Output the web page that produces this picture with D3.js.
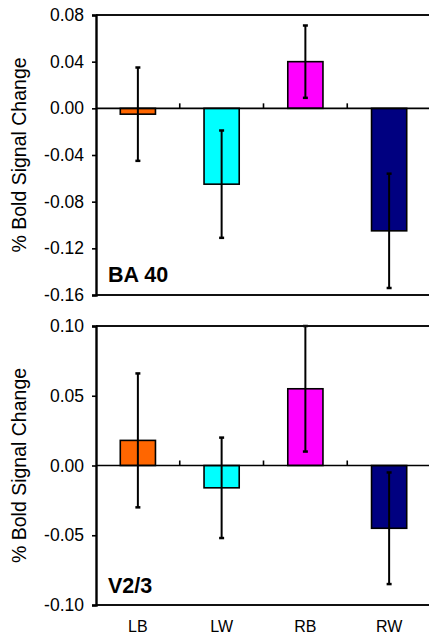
<!DOCTYPE html>
<html lang="en">
<head>
<meta charset="UTF-8">
<title>% Bold Signal Change</title>
<script src="https://d3js.org/d3.v7.min.js"></script>
<style>
  body { margin: 0; background: #fff; }
  svg { display: block; }
  text { font-family: "Liberation Sans", Arial, sans-serif; }
</style>
</head>
<body>
<svg width="429" height="635"></svg>
<script>
// categories and colours
const categories = ["LB", "LW", "RB", "RW"];
const barColors = ["#FF6600", "#00FFFF", "#FF00FF", "#000080"];

// BA 40 panel
const ba40Means = [-0.005, -0.065, 0.040, -0.105];
const ba40Errors = [0.040, 0.046, 0.031, 0.049];
const ba40Ticks = [0.08, 0.04, 0.00, -0.04, -0.08, -0.12, -0.16];

// V2/3 panel
const v23Means = [0.018, -0.016, 0.055, -0.045];
const v23Errors = [0.048, 0.036, 0.045, 0.040];
const v23Ticks = [0.10, 0.05, 0.00, -0.05, -0.10];

const svg = d3.select("svg");

const x = d3.scaleBand()
    .domain(categories)
    .range([96, 431])
    .paddingInner(0.58)
    .paddingOuter(0.29);

function drawPanel(opts) {
    const y = d3.scaleLinear().domain(opts.domain).range([opts.bottom, opts.top]);
    const g = svg.append("g");
    const data = categories.map((c, i) => ({ cat: c, v: opts.means[i], e: opts.errors[i], col: barColors[i] }));

    // bars
    g.selectAll("rect.bar")
        .data(data)
        .join("rect")
        .attr("class", "bar")
        .attr("x", d => x(d.cat))
        .attr("width", x.bandwidth())
        .attr("y", d => y(Math.max(0, d.v)))
        .attr("height", d => Math.abs(y(d.v) - y(0)))
        .attr("fill", d => d.col)
        .attr("stroke", "#000")
        .attr("stroke-width", 1.6);

    // zero line
    g.append("line")
        .attr("x1", 96).attr("x2", 431)
        .attr("y1", y(0)).attr("y2", y(0))
        .attr("stroke", "#000").attr("stroke-width", 1.6);

    // category tick marks between bands
    const bounds = categories.slice(1).map(c => x(c) - x.step() * x.paddingInner() / 2);
    g.selectAll("line.ctick")
        .data(bounds)
        .join("line")
        .attr("x1", d => d).attr("x2", d => d)
        .attr("y1", y(0)).attr("y2", y(0) - 5)
        .attr("stroke", "#000").attr("stroke-width", 1.6);

    // error bars
    const eb = g.selectAll("g.err").data(data).join("g").attr("class", "err");
    const cx = d => x(d.cat) + x.bandwidth() / 2;
    eb.append("line")
        .attr("x1", cx).attr("x2", cx)
        .attr("y1", d => y(d.v + d.e)).attr("y2", d => y(d.v - d.e))
        .attr("stroke", "#000").attr("stroke-width", 2);
    eb.append("line")
        .attr("x1", d => cx(d) - 2.5).attr("x2", d => cx(d) + 2.5)
        .attr("y1", d => y(d.v + d.e)).attr("y2", d => y(d.v + d.e))
        .attr("stroke", "#000").attr("stroke-width", 2.5);
    eb.append("line")
        .attr("x1", d => cx(d) - 2.5).attr("x2", d => cx(d) + 2.5)
        .attr("y1", d => y(d.v - d.e)).attr("y2", d => y(d.v - d.e))
        .attr("stroke", "#000").attr("stroke-width", 2.5);

    // frame: top and bottom lines
    g.append("line")
        .attr("x1", 96).attr("x2", 431)
        .attr("y1", opts.top).attr("y2", opts.top)
        .attr("stroke", "#111").attr("stroke-width", 2.2);
    g.append("line")
        .attr("x1", 96).attr("x2", 431)
        .attr("y1", opts.bottom).attr("y2", opts.bottom)
        .attr("stroke", "#111").attr("stroke-width", 2.2);

    // y axis
    const axis = g.append("g")
        .attr("transform", "translate(96,0)")
        .call(d3.axisLeft(y).tickValues(opts.ticks).tickFormat(d3.format(".2f")).tickSize(4).tickPadding(8));
    axis.select(".domain").attr("stroke", "#000").attr("stroke-width", 2.4);
    axis.selectAll(".tick line").attr("stroke", "#000").attr("stroke-width", 1.6);
    axis.selectAll(".tick text")
        .attr("font-size", 17.5)
        .attr("font-family", "'Liberation Sans', Arial, sans-serif")
        .attr("fill", "#000")
        .text(d => d3.format(".2f")(d).replace("−", "-"));

    // y axis title
    g.append("text")
        .attr("transform", `translate(26,${(opts.top + opts.bottom) / 2}) rotate(-90)`)
        .attr("text-anchor", "middle")
        .attr("font-size", 19.5)
        .text("% Bold Signal Change");

    // panel label
    g.append("text")
        .attr("x", 108)
        .attr("y", opts.labelY)
        .attr("font-size", 21.5)
        .attr("font-weight", "bold")
        .text(opts.label);
}

drawPanel({ top: 15, bottom: 295, domain: [-0.16, 0.08], means: ba40Means, errors: ba40Errors, ticks: ba40Ticks, label: "BA 40", labelY: 282 });
drawPanel({ top: 326, bottom: 605, domain: [-0.10, 0.10], means: v23Means, errors: v23Errors, ticks: v23Ticks, label: "V2/3", labelY: 593 });

// category labels
svg.selectAll("text.cat")
    .data(categories)
    .join("text")
    .attr("class", "cat")
    .attr("x", d => x(d) + x.bandwidth() / 2)
    .attr("y", 632)
    .attr("text-anchor", "middle")
    .attr("font-size", 16)
    .text(d => d);
</script>
</body>
</html>
